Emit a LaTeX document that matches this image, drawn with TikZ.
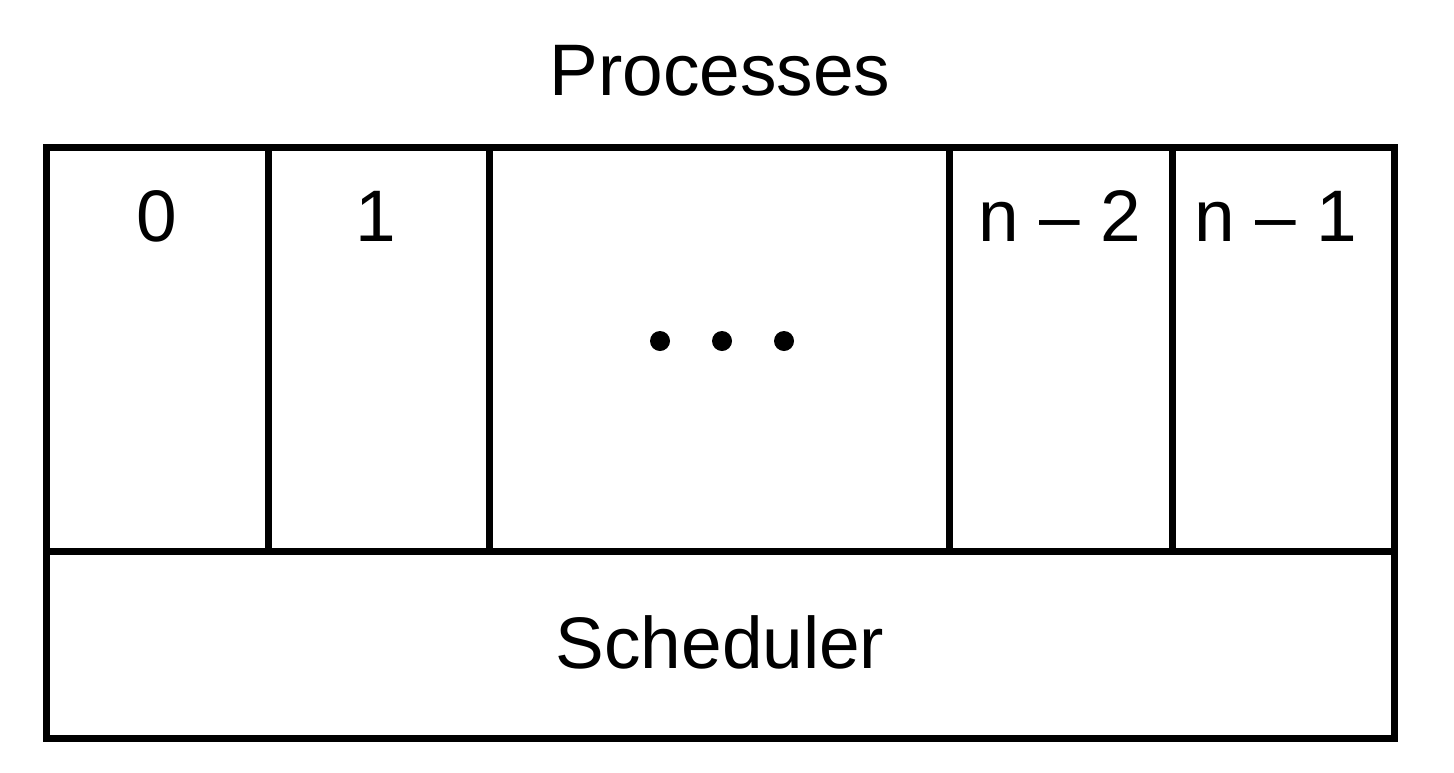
\documentclass[tikz,border=0pt]{standalone}
\usepackage{fontspec}
\setmainfont{Liberation Sans}
\begin{document}
\begin{tikzpicture}[x=1pt,y=-1pt,
  frame/.style={draw=black,line width=7pt,line cap=rect,line join=miter},
  lbl/.style={inner sep=0pt,anchor=base,font=\fontsize{73}{80}\selectfont},
  dotmark/.style={circle,fill=black,inner sep=0pt,minimum size=20pt}]
\useasboundingbox (0,0) rectangle (1454,772);
% outer box and dividers
\draw[frame] (46,147) rectangle (1394,738);
\draw[frame] (46,551) -- (1394,551);
\draw[frame] (268,147) -- (268,551);
\draw[frame] (489,147) -- (489,551);
\draw[frame] (949,147) -- (949,551);
\draw[frame] (1172,147) -- (1172,551);
% labels
\node[lbl] (title) at (720,95) {Processes};
\node[lbl] (p0) at (157,241) {0};
\node[lbl] (p1) at (376,241) {1};
\node[lbl] (pn2) at (1060,241) {n – 2};
\node[lbl] (pn1) at (1276,241) {n – 1};
\node[dotmark] (d1) at (660,341) {};
\node[dotmark] (d2) at (722,341) {};
\node[dotmark] (d3) at (784,341) {};
\node[lbl] (sched) at (720,668) {Scheduler};
\end{tikzpicture}
\end{document}
